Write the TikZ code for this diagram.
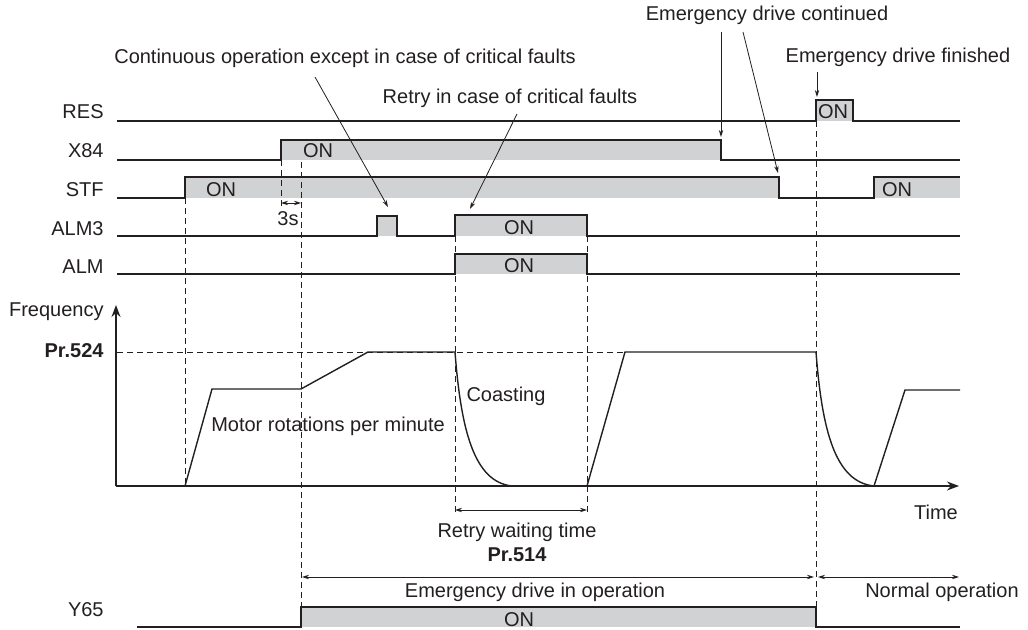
\documentclass[tikz,border=0pt]{standalone}
\usepackage{fontspec}
\setmainfont{Liberation Sans}
\usetikzlibrary{arrows.meta}
\definecolor{onfill}{RGB}{209,210,212}
\definecolor{ink}{RGB}{35,31,32}
\begin{document}
\begin{tikzpicture}[x=0.5pt,y=-0.5pt,
  sig/.style={line width=0.7pt, draw=ink, line join=miter},
  dsh/.style={line width=0.45pt, draw=ink, dash pattern=on 3pt off 2pt},
  lbl/.style={anchor=east, inner sep=0pt, text=ink},
  txt/.style={inner sep=0pt, text=ink},
  lead/.style={line width=0.4pt, draw=ink, -{Stealth[length=3.5pt,width=2.2pt]}},
  dim/.style={line width=0.4pt, draw=ink, {Stealth[length=3.5pt,width=2.2pt]}-{Stealth[length=3.5pt,width=2.2pt]}},
  axis/.style={line width=0.75pt, draw=ink, -{Stealth[length=6pt,width=4.5pt]}}
]
\useasboundingbox (0,0) rectangle (1028,630);

% ON fills
\fill[onfill] (816,100) rectangle (853,121);
\fill[onfill] (281,140) rectangle (721,160);
\fill[onfill] (185,177) rectangle (779,198);
\fill[onfill] (874,177) rectangle (960,198);
\fill[onfill] (377,216) rectangle (397,236);
\fill[onfill] (455,215) rectangle (587,236);
\fill[onfill] (455,254) rectangle (587,274);
\fill[onfill] (301,607) rectangle (816,627);

% dashed guides
\draw[dsh] (185,198) -- (185,486);
\draw[dsh] (281,160) -- (281,207);
\draw[dsh] (301,162) -- (301,607);
\draw[dsh] (455,236) -- (455,515);
\draw[dsh] (587,236) -- (587,515);
\draw[dsh] (816,121) -- (816,607);
\draw[dsh] (117,352) -- (625,352);

% signal traces
\draw[sig] (117,121) -- (816,121) -- (816,100) -- (853,100) -- (853,121) -- (960,121);
\draw[sig] (117,160) -- (281,160) -- (281,140) -- (721,140) -- (721,160) -- (960,160);
\draw[sig] (117,198) -- (185,198) -- (185,177) -- (779,177) -- (779,198) -- (874,198) -- (874,177) -- (960,177);
\draw[sig] (117,236) -- (377,236) -- (377,216) -- (397,216) -- (397,236) -- (455,236) -- (455,215) -- (587,215) -- (587,236) -- (960,236);
\draw[sig] (117,274) -- (455,274) -- (455,254) -- (587,254) -- (587,274) -- (960,274);
\draw[sig] (137,627) -- (301,627) -- (301,607) -- (816,607) -- (816,627) -- (960,627);

% axes
\coordinate (origin) at (116,486);
\coordinate (ftop) at (116,305);
\coordinate (tend) at (959,486);
\draw[axis] (origin) -- (ftop);
\draw[axis] (origin) -- (tend);

% frequency curve
\draw[sig] (185,486) -- (212,389) -- (301,389) -- (368,352) -- (455,352)
  .. controls (461,430) and (474,482) .. (512,486) -- (587,486) -- (625,352) -- (816,352)
  .. controls (822,430) and (835,482) .. (874,486) -- (905,390) -- (960,390);

% row labels
\node[lbl] (lres) at (104,112) {RES};
\node[lbl] (lx84) at (104,151) {X84};
\node[lbl] (lstf) at (104,190) {STF};
\node[lbl] (lalm3) at (104,229) {ALM3};
\node[lbl] (lalm) at (104,267) {ALM};
\node[lbl] (lfreq) at (104,312) {Frequency};
\node[lbl] (lpr524) at (104,351) {\textbf{Pr.524}};
\node[lbl] (ly65) at (104,610) {Y65};

% ON labels
\node[txt] (onres) at (833,112) {ON};
\node[txt] (onx84) at (318,151) {ON};
\node[txt] (onstf) at (221,190) {ON};
\node[txt] (onstf2) at (897,190) {ON};
\node[txt] (onalm3) at (519,228) {ON};
\node[txt] (onalm) at (519,266) {ON};
\node[txt] (ony65) at (519,620) {ON};

% annotations
\node[txt] (cont) at (345,58) {Continuous operation except in case of critical faults};
\node[txt] (retry) at (510,98) {Retry in case of critical faults};
\node[txt] (edc) at (767,15) {Emergency drive continued};
\node[txt] (edf) at (898,57) {Emergency drive finished};
\node[txt] (motor) at (328,426) {Motor rotations per minute};
\node[txt] (coast) at (506,396) {Coasting};
\node[txt] (time) at (936,512) {Time};
\node[txt] (rwt) at (517,532) {Retry waiting time};
\node[txt] (pr514) at (517,555) {\textbf{Pr.514}};
\node[txt] (edio) at (535,592) {Emergency drive in operation};
\node[txt] (normal) at (942,592) {Normal operation};
\node[txt] (three) at (288,219) {3s};

% leader arrows
\coordinate (c1s) at (315,77);   \coordinate (c1e) at (388,207);
\coordinate (c2s) at (517,114);  \coordinate (c2e) at (470,209);
\coordinate (c3s) at (721,32);   \coordinate (c3e) at (721,137);
\coordinate (c4s) at (743,32);   \coordinate (c4e) at (778,173);
\coordinate (c5s) at (817,72);   \coordinate (c5e) at (817,97);
\draw[lead] (c1s) -- (c1e);
\draw[lead] (c2s) -- (c2e);
\draw[lead] (c3s) -- (c3e);
\draw[lead] (c4s) -- (c4e);
\draw[lead] (c5s) -- (c5e);

% dimension arrows
\coordinate (d1a) at (281,203); \coordinate (d1b) at (301,203);
\coordinate (d2a) at (455,510); \coordinate (d2b) at (587,510);
\coordinate (d3a) at (302,577); \coordinate (d3b) at (814,577);
\coordinate (d4a) at (818,577); \coordinate (d4b) at (959,577);
\draw[dim] (d1a) -- (d1b);
\draw[dim] (d2a) -- (d2b);
\draw[dim] (d3a) -- (d3b);
\draw[dim] (d4a) -- (d4b);
\end{tikzpicture}
\end{document}
